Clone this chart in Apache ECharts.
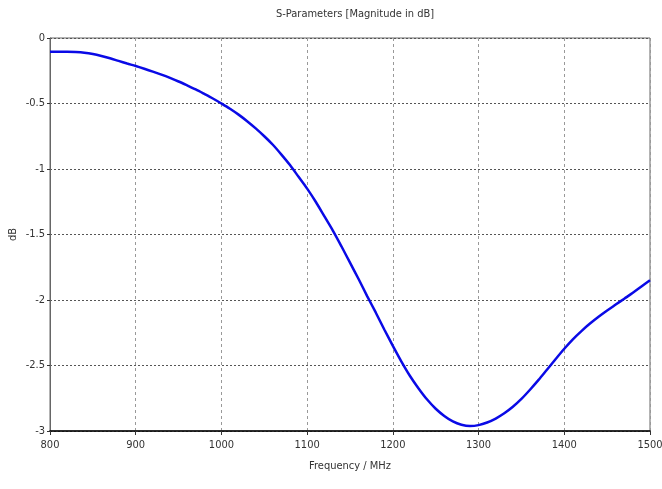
<!DOCTYPE html>
<html>
<head>
<meta charset="utf-8">
<script src="https://cdn.jsdelivr.net/npm/echarts@6/dist/echarts.min.js"></script>
<style>html,body{margin:0;padding:0;background:#fff}#c{width:662px;height:489px}</style>
</head>
<body>
<div id="c"></div>
<script>
const freqs = [800,810,820,830,840,850,860,870,880,890,900,910,920,930,940,950,960,970,980,990,
  1000,1010,1020,1030,1040,1050,1060,1070,1080,1090,1100,1110,1120,1130,1140,1150,1160,1170,1180,1190,
  1200,1210,1220,1230,1240,1250,1260,1270,1280,1290,1300,1310,1320,1330,1340,1350,1360,1370,1380,1390,
  1400,1410,1420,1430,1440,1450,1460,1470,1480,1490,1500];
const sParam = [-0.105,-0.105,-0.105,-0.107,-0.112,-0.122,-0.137,-0.155,-0.175,-0.195,
  -0.214,-0.235,-0.257,-0.28,-0.305,-0.332,-0.362,-0.393,-0.427,-0.462,
  -0.5,-0.54,-0.585,-0.635,-0.69,-0.75,-0.815,-0.89,-0.97,-1.06,
  -1.15,-1.25,-1.36,-1.47,-1.59,-1.715,-1.84,-1.97,-2.095,-2.225,
  -2.35,-2.47,-2.58,-2.675,-2.76,-2.83,-2.885,-2.927,-2.952,-2.962,
  -2.955,-2.935,-2.905,-2.865,-2.815,-2.755,-2.685,-2.61,-2.53,-2.45,
  -2.372,-2.30,-2.237,-2.18,-2.128,-2.08,-2.035,-1.99,-1.945,-1.897,-1.85];
const titleText = 'S-Parameters [Magnitude in dB]';
const xName = 'Frequency / MHz';
const yName = 'dB';

const font = '"DejaVu Sans Condensed", sans-serif';
const chart = echarts.init(document.getElementById('c'));
chart.setOption({
  animation: false,
  title: { text: titleText, left: 350, top: 4, textAlign: 'center',
    textStyle: { fontFamily: font, fontSize: 11, fontWeight: 'normal', color: '#333' } },
  grid: { left: 50, right: 12, top: 38, bottom: 58, show: true, borderColor: '#666', borderWidth: 1, outerBoundsMode: 'none', containLabel: false },
  xAxis: {
    type: 'value', min: 800, max: 1500, interval: 100,
    name: xName, nameLocation: 'middle', nameGap: 30,
    nameTextStyle: { fontFamily: font, fontSize: 11, color: '#333' },
    axisLine: { onZero: false, lineStyle: { color: '#000', width: 1.5 } },
    axisTick: { show: true, length: 4, lineStyle: { color: '#333' } },
    axisLabel: { fontFamily: font, fontSize: 11, color: '#333', margin: 9, formatter: v => String(v) },
    splitLine: { show: true, lineStyle: { color: '#999', type: [3, 3] } }
  },
  yAxis: {
    type: 'value', min: -3, max: 0, interval: 0.5,
    name: yName, nameLocation: 'middle', nameGap: 31, nameRotate: 90, nameMoveOverlap: false,
    nameTextStyle: { fontFamily: font, fontSize: 11, color: '#333' },
    axisLine: { show: true, onZero: false, lineStyle: { color: '#666' } },
    axisTick: { show: true, length: 3, lineStyle: { color: '#333' } },
    axisLabel: { fontFamily: font, fontSize: 11, color: '#333', margin: 5, formatter: v => String(v) },
    splitLine: { show: true, lineStyle: { color: '#555', type: [2, 2] } }
  },
  series: [{
    type: 'line', smooth: 0.3, showSymbol: false,
    data: freqs.map((f, i) => [f, sParam[i]]),
    lineStyle: { color: '#0a0ae6', width: 2.5 }
  }]
});
</script>
</body>
</html>
